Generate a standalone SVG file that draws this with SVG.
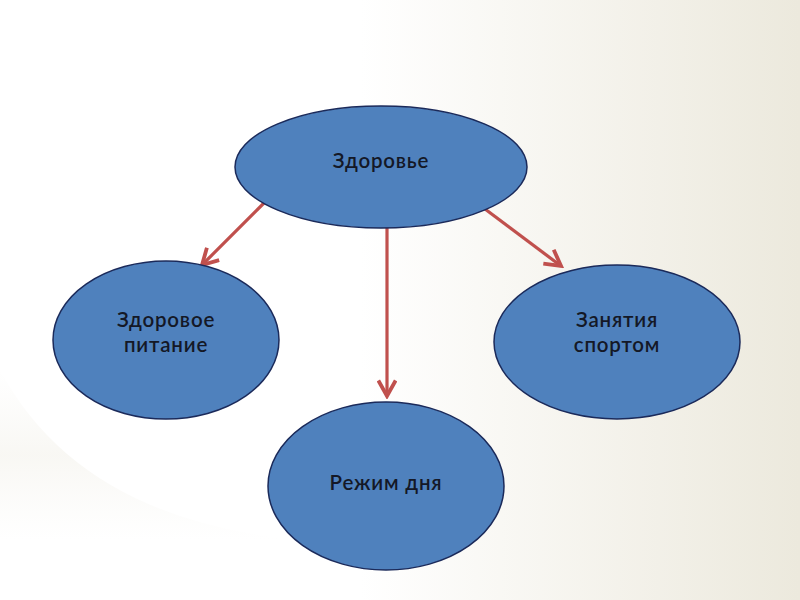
<svg xmlns="http://www.w3.org/2000/svg" width="800" height="600" viewBox="0 0 800 600">
<defs>
<linearGradient id="bg" x1="0" y1="0" x2="1" y2="0">
<stop offset="0" stop-color="#ffffff"/>
<stop offset="0.45" stop-color="#ffffff"/>
<stop offset="1" stop-color="#ece9dd"/>
</linearGradient>
<linearGradient id="band" x1="0" y1="0" x2="0" y2="1">
<stop offset="0" stop-color="#f4f2ec" stop-opacity="0"/>
<stop offset="0.5" stop-color="#f1efe7" stop-opacity="0.8"/>
<stop offset="1" stop-color="#f4f2ec" stop-opacity="0"/>
</linearGradient>
<marker id="ah" viewBox="0 0 12 12" refX="10" refY="6" markerWidth="6.5" markerHeight="6.5" orient="auto" markerUnits="strokeWidth">
<path d="M1,1 L10,6 L1,11" fill="none" stroke="#c0504d" stroke-width="2.2" stroke-linejoin="miter"/>
</marker>
</defs>
<style>
.node ellipse{fill:#4f81bd;stroke:#1b2a5a;stroke-width:1.5}
.node text{font-family:Lato,"Open Sans","DejaVu Sans",sans-serif;font-size:20.5px;font-weight:600;letter-spacing:0.8px;fill:#141826;text-anchor:middle}
.conn line{stroke:#c0504d;stroke-width:3.2;marker-end:url(#ah)}
</style>
<rect width="800" height="600" fill="url(#bg)"/>
<path d="M0,370 Q80,520 300,540 L0,540 Z" fill="url(#band)" opacity="0.6"/>
<g id="connectors" class="conn">
<line x1="266" y1="201" x2="202" y2="265"/>
<line x1="387" y1="228" x2="387" y2="396"/>
<line x1="485" y1="209" x2="561" y2="266"/>
</g>
<g id="node-health" class="node">
<ellipse cx="381" cy="167" rx="146" ry="61"/>
<text x="381" y="168">Здоровье</text>
</g>
<g id="node-food" class="node">
<ellipse cx="166" cy="340" rx="113" ry="79"/>
<text x="166" y="327">Здоровое</text>
<text x="166" y="352">питание</text>
</g>
<g id="node-sport" class="node">
<ellipse cx="617" cy="342" rx="123" ry="77"/>
<text x="617" y="327">Занятия</text>
<text x="617" y="352">спортом</text>
</g>
<g id="node-regime" class="node">
<ellipse cx="386" cy="486" rx="118" ry="84"/>
<text x="386" y="490">Режим дня</text>
</g>
</svg>
